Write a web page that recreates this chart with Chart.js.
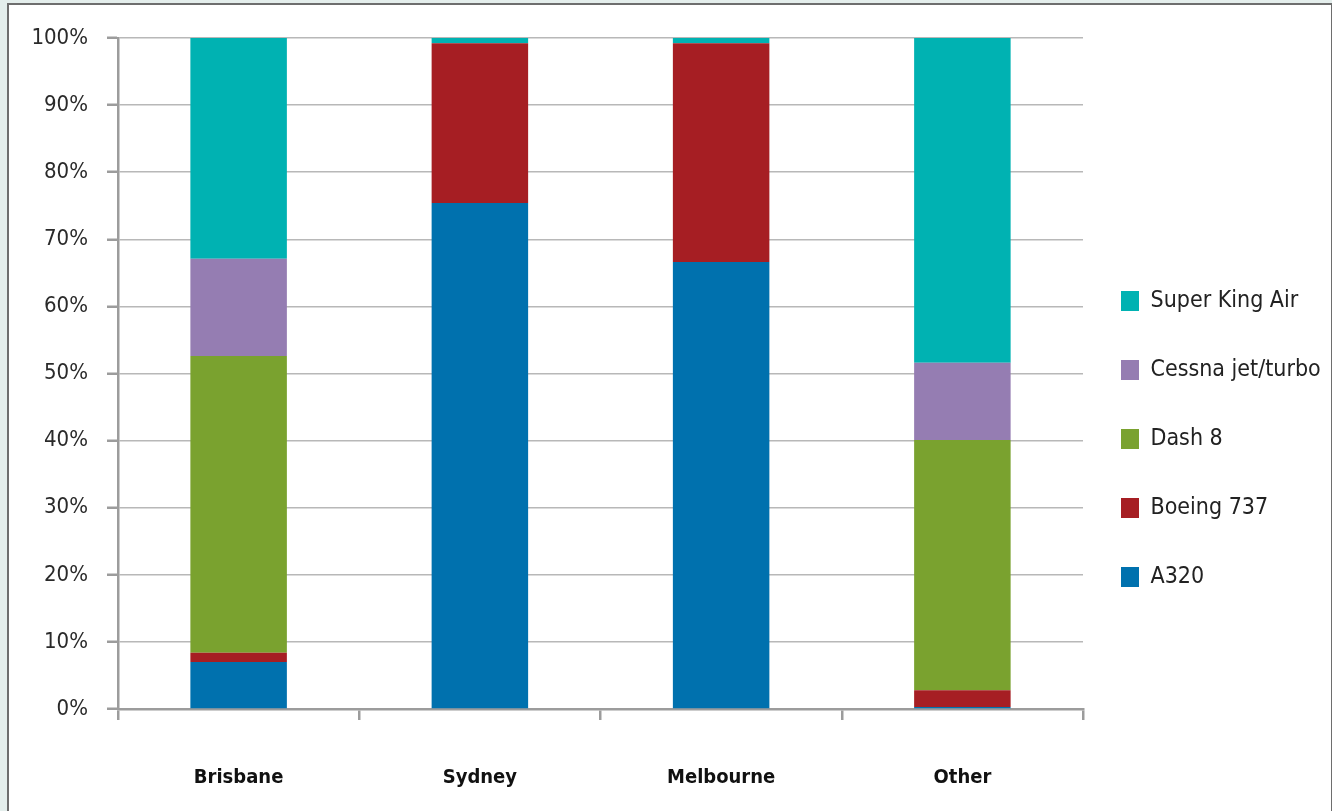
<!DOCTYPE html>
<html lang="en">
<head>
    <meta charset="UTF-8">
    <title>Aircraft mix by port</title>
    <script src="https://cdn.jsdelivr.net/npm/chart.js"></script>
    <style>
        html, body { margin: 0; padding: 0; background: #e4eeec; overflow: hidden; }
        .frame { position: absolute; left: 7px; top: 3px; width: 1322px; height: 830px; background: #fff; border: 2px solid #6e6e6e; }
        .wrap { position: absolute; left: 0; top: 0; width: 1332px; height: 811px; }
    </style>
</head>
<body>
    <div class="frame"></div>
    <div class="wrap"><canvas id="mixChart"></canvas></div>
    <script>
        // categories and series (share of movements, %)
        const ports = ['Brisbane', 'Sydney', 'Melbourne', 'Other'];
        const a320      = [7.0, 75.4, 66.6, 0.3];
        const boeing737 = [1.4, 23.8, 32.6, 2.5];
        const dash8     = [44.2, 0, 0, 37.3];
        const cessna    = [14.5, 0, 0, 11.5];
        const superKing = [32.9, 0.8, 0.8, 48.4];
        const yTicks = [0, 10, 20, 30, 40, 50, 60, 70, 80, 90, 100];

        const fontFam = "'DejaVu Sans Condensed', 'Liberation Sans Narrow', Roboto, sans-serif";

        // nudge legend a little left so swatches sit where the original has them
        const legendShift = {
            id: 'legendShift',
            afterLayout(chart) {
                chart.legend.left -= 8;
                chart.legend.right -= 8;
            }
        };

        function series(label, data, color) {
            return { label: label, data: data, backgroundColor: color, borderWidth: 0 };
        }

        new Chart(document.getElementById('mixChart'), {
            type: 'bar',
            data: {
                labels: ports,
                datasets: [
                    series('A320', a320, '#0071ae'),
                    series('Boeing 737', boeing737, '#a61e23'),
                    series('Dash 8', dash8, '#7aa22f'),
                    series('Cessna jet/turbo', cessna, '#957db2'),
                    series('Super King Air', superKing, '#00b2b2')
                ]
            },
            options: {
                responsive: true,
                maintainAspectRatio: false,
                animation: false,
                layout: { padding: { top: 38, right: 0, bottom: 0, left: 0 } },
                datasets: { bar: { barPercentage: 0.4, categoryPercentage: 1.0 } },
                plugins: {
                    tooltip: { enabled: false },
                    legend: {
                        position: 'right',
                        align: 'start',
                        reverse: true,
                        maxWidth: 249,
                        title: { display: true, text: '', font: { size: 10, lineHeight: 1 }, padding: { top: 195.5, bottom: 0 } },
                        labels: {
                            boxWidth: 18,
                            boxHeight: 20,
                            padding: 46,
                            color: '#222',
                            font: { family: fontFam, size: 23 }
                        }
                    }
                },
                scales: {
                    x: {
                        stacked: true,
                        afterFit: s => { s.height = 102; },
                        border: { color: '#9c9c9c', width: 2.5 },
                        grid: { offset: true, drawOnChartArea: false, drawTicks: true, tickLength: 11, color: '#9c9c9c', lineWidth: 2.5 },
                        ticks: { padding: 46, color: '#111', font: { family: fontFam, size: 20, weight: 'bold' } }
                    },
                    y: {
                        stacked: true,
                        min: 0,
                        max: 100,
                        afterFit: s => { s.width = 118; },
                        afterBuildTicks: s => { s.ticks = yTicks.map(v => ({ value: v })); },
                        border: { color: '#9c9c9c', width: 2.5 },
                        grid: { color: '#b8b8b8', lineWidth: 1.5, tickColor: '#9c9c9c', tickWidth: 2.5, tickLength: 11 },
                        ticks: { padding: 19, color: '#2a2a2a', font: { family: fontFam, size: 22 }, callback: v => v + '%' }
                    }
                }
            },
            plugins: [legendShift]
        });
    </script>
</body>
</html>
